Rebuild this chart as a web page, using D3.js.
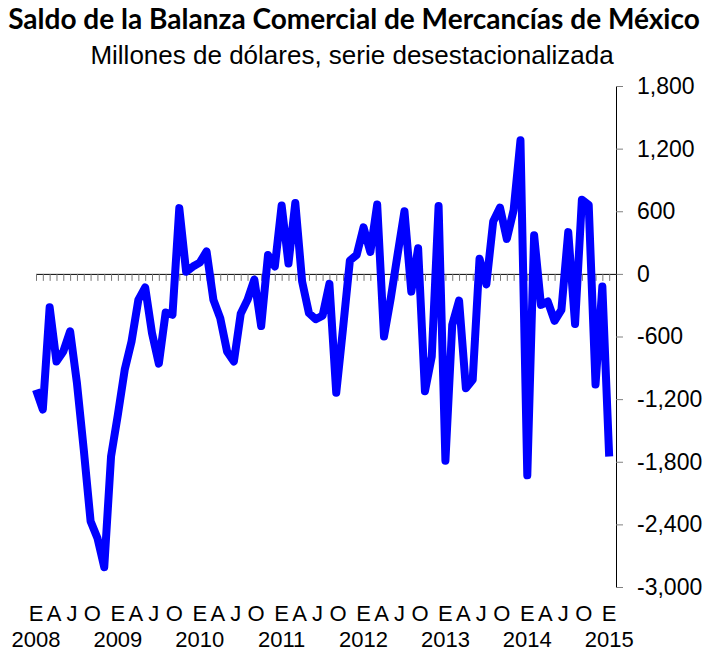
<!DOCTYPE html>
<html>
<head>
<meta charset="utf-8">
<script src="https://cdn.jsdelivr.net/npm/d3@7"></script>
<style>
  body { margin: 0; background: white; }
  text { font-family: "Liberation Sans", Arial, sans-serif; }
</style>
</head>
<body>
<div id="chart"></div>
<script>
// monthly data, Jan 2008 .. Jan 2015 (millones de dolares)
const years = ["2008", "2009", "2010", "2011", "2012", "2013", "2014", "2015"];
const monthLetters = ["E", "A", "J", "O"];
const saldo = [
  -1110, -1300, -320, -839, -743, -550, -1046, -1684, -2370, -2530, -2810, -1748,
  -1349, -919, -648, -249, -130, -568, -860, -370, -392, 630, 20, 70,
  108, 215, -249, -424, -743, -840, -383, -249, -55, -500, 180, 70,
  655, 100, 680, -73, -376, -434, -400, -95, -1140, -520, 128, 182,
  445, 210, 665, -600, -230, 190, 600, -170, 245, -1125, -791, 650,
  -1790, -488, -255, -1095, -1014, 145, -100, 501, 635, 335, 612, 1280,
  -1930, 370, -297, -265, -450, -344, 400, -480, 710, 660, -1060, -120,
  -1750
];
const yTicks = [-3000, -2400, -1800, -1200, -600, 0, 600, 1200, 1800];

const svgWidth = 708;
const svgHeight = 652;
const plot = {left: 36, right: 616, top: 86, bottom: 587};

let svg = d3.select("#chart")
  .append("svg")
  .attr("width", svgWidth)
  .attr("height", svgHeight);

// scales
var xScale = d3.scaleLinear()
  .domain([0, saldo.length])
  .range([plot.left, plot.right]);
var yScale = d3.scaleLinear()
  .domain([-3000, 1800])
  .range([plot.bottom, plot.top]);

// titles
let title = svg.append("text")
  .attr("x", svgWidth / 2)
  .attr("y", 29)
  .attr("text-anchor", "middle")
  .style("font-family", "Lato, 'Noto Sans', sans-serif")
  .style("font-weight", "bold")
  .style("font-size", "22px")
  .text("Saldo de la Balanza Comercial de Mercancías de México");
// fit the title to the width it has in the picture
let tw = title.node().getComputedTextLength();
title.style("font-size", (22 * 692 / tw) + "px");

svg.append("text")
  .attr("x", 352)
  .attr("y", 64)
  .attr("text-anchor", "middle")
  .style("font-size", "26px")
  .text("Millones de dólares, serie desestacionalizada");

// y axis on the right
let yAxis = svg.append("g")
  .attr("transform", "translate(" + plot.right + ",0)")
  .call(d3.axisRight(yScale)
    .tickValues(yTicks)
    .tickSize(7)
    .tickSizeOuter(0)
    .tickPadding(14)
    .tickFormat(d => d3.format(",")(d).replace("\u2212", "-")));
yAxis.select(".domain").attr("stroke", "#000");
yAxis.selectAll(".tick line").attr("stroke", "#808080");
yAxis.selectAll(".tick text")
  .attr("fill", "#000")
  .style("font-family", "'Liberation Sans', Arial, sans-serif")
  .style("font-size", "23px");

// x axis along zero, one tick per month
let xAxis = svg.append("g")
  .attr("transform", "translate(0," + yScale(0) + ")")
  .call(d3.axisBottom(xScale)
    .tickValues(d3.range(saldo.length))
    .tickSize(7)
    .tickSizeOuter(0)
    .tickFormat(""));
xAxis.select(".domain").attr("stroke", "#000");
xAxis.selectAll(".tick line").attr("stroke", "#777");

// month letters and years below the plot
let offsets = [0, -2.5, -5, -5];
let labels = [];
years.forEach(function(yr, yi) {
  monthLetters.forEach(function(m, mi) {
    let idx = yi * 12 + mi * 3;
    if (idx < saldo.length) labels.push({txt: m, idx: idx, off: offsets[mi]});
  });
});
svg.append("g").selectAll("text")
  .data(labels)
  .enter().append("text")
  .attr("x", d => xScale(d.idx) + d.off)
  .attr("y", 621)
  .attr("text-anchor", "middle")
  .style("font-size", "22px")
  .text(d => d.txt);
svg.append("g").selectAll("text")
  .data(years)
  .enter().append("text")
  .attr("x", (d, i) => xScale(i * 12))
  .attr("y", 647)
  .attr("text-anchor", "middle")
  .style("font-size", "22px")
  .text(d => d);

// the series
svg.append("path")
  .datum(saldo)
  .attr("fill", "none")
  .attr("stroke", "#0000ff")
  .attr("stroke-width", 8)
  .attr("stroke-linejoin", "round")
  .attr("d", d3.line()
    .x(function(d, i) { return xScale(i); })
    .y(function(d) { return yScale(d); }));
</script>
</body>
</html>
